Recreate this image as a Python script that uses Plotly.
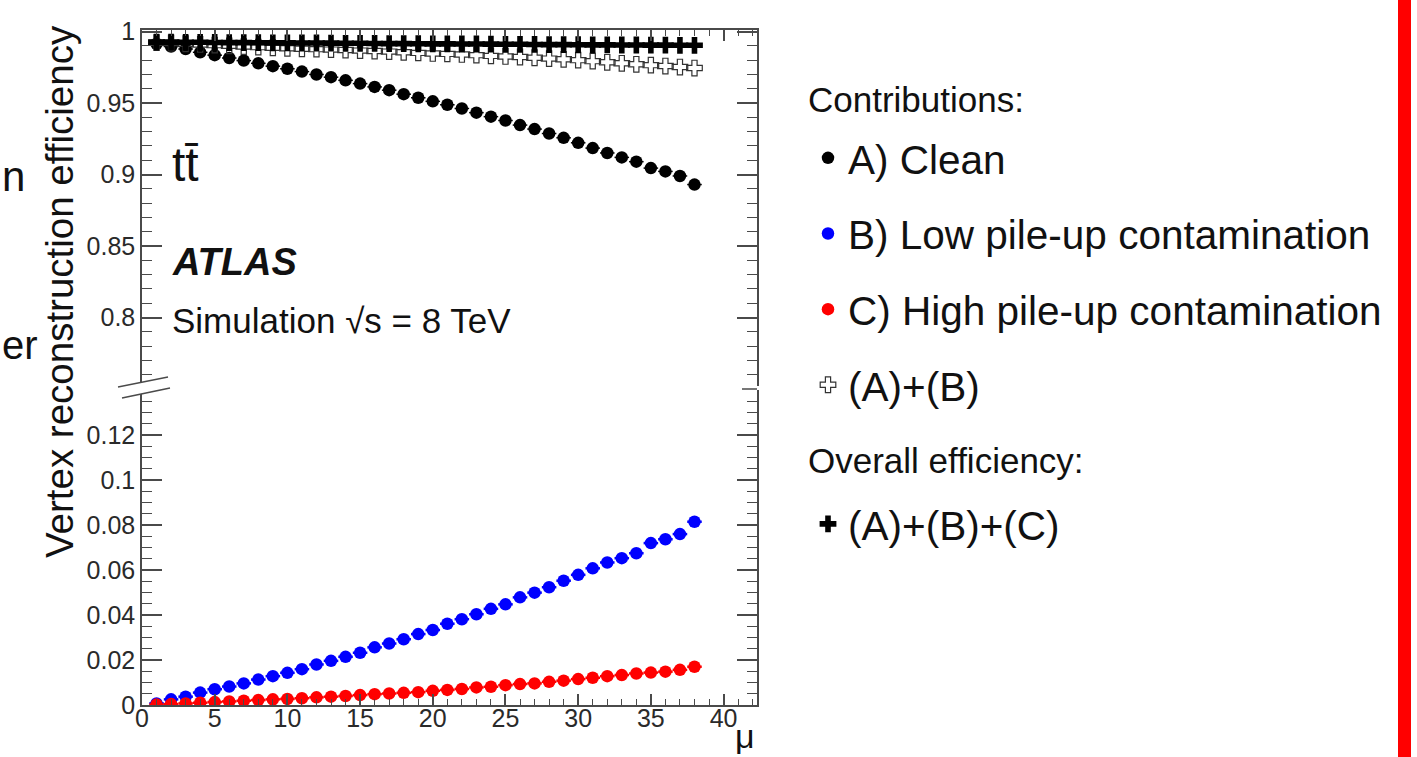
import plotly.graph_objects as go

W, H = 1417, 757
FONT = "Liberation Sans, Arial, Helvetica, sans-serif"
AX = "#4a4a4a"

# ---------------- data ----------------
mu = list(range(1, 39))

clean = [0.9915, 0.9895, 0.9878, 0.9855, 0.9835, 0.9815, 0.9797, 0.9778, 0.9758, 0.9740,
         0.9720, 0.9700, 0.9681, 0.9659, 0.9636, 0.9613, 0.9590, 0.9562, 0.9537, 0.9512,
         0.9488, 0.9462, 0.9433, 0.9405, 0.9378, 0.9346, 0.9318, 0.9287, 0.9257, 0.9222,
         0.9185, 0.9151, 0.9120, 0.9090, 0.9045, 0.9022, 0.8990, 0.8930]

low_pu = [0.0007, 0.0025, 0.0037, 0.0055, 0.0070, 0.0082, 0.0096, 0.0113, 0.0128, 0.0143,
          0.0159, 0.0180, 0.0196, 0.0214, 0.0232, 0.0256, 0.0273, 0.0292, 0.0315, 0.0333,
          0.0361, 0.0381, 0.0403, 0.0427, 0.0447, 0.0478, 0.0499, 0.0523, 0.0552, 0.0578,
          0.0607, 0.0633, 0.0652, 0.0674, 0.0719, 0.0736, 0.0759, 0.0814]

high_pu = [0.0002, 0.0004, 0.0007, 0.0010, 0.0013, 0.0016, 0.0019, 0.0022, 0.0025, 0.0027,
           0.0030, 0.0034, 0.0037, 0.0040, 0.0044, 0.0048, 0.0051, 0.0054, 0.0057, 0.0063,
           0.0067, 0.0071, 0.0078, 0.0081, 0.0088, 0.0093, 0.0096, 0.0103, 0.0108, 0.0115,
           0.0121, 0.0128, 0.0133, 0.0140, 0.0144, 0.0148, 0.0156, 0.0170]

clean_plus_low = [0.9922, 0.9920, 0.9915, 0.9910, 0.9905, 0.9900, 0.9895, 0.9891, 0.9887, 0.9883,
                  0.9880, 0.9877, 0.9874, 0.9871, 0.9867, 0.9864, 0.9860, 0.9855, 0.9851, 0.9847,
                  0.9844, 0.9840, 0.9835, 0.9830, 0.9826, 0.9822, 0.9817, 0.9811, 0.9806, 0.9800,
                  0.9793, 0.9785, 0.9778, 0.9771, 0.9765, 0.9759, 0.9752, 0.9745]

overall = [0.9926, 0.9926, 0.9925, 0.9925, 0.9924, 0.9923, 0.9923, 0.9922, 0.9921, 0.9921,
           0.9920, 0.9920, 0.9919, 0.9918, 0.9918, 0.9917, 0.9916, 0.9916, 0.9915, 0.9914,
           0.9914, 0.9913, 0.9913, 0.9912, 0.9911, 0.9911, 0.9910, 0.9909, 0.9909, 0.9908,
           0.9907, 0.9907, 0.9906, 0.9906, 0.9905, 0.9905, 0.9904, 0.9904]

x_ticks = [0, 5, 10, 15, 20, 25, 30, 35, 40]
names = ["A) Clean", "B) Low pile-up contamination", "C) High pile-up contamination",
         "(A)+(B)", "(A)+(B)+(C)"]


def px(x):
    return x / W


def py(y):
    return 1 - y / H


def errx(color, thick=2):
    return dict(type="constant", value=0.5, thickness=thick, width=0, color=color)


fig = go.Figure()

# bottom panel
fig.add_trace(go.Scatter(x=mu, y=low_pu, mode="markers", name=names[1],
                         marker=dict(color="#0000ff", size=12.5, symbol="circle"),
                         error_x=errx("#0000ff", 2.5), xaxis="x", yaxis="y",
                         legend="legend", legendgroup="b", legendrank=2))
fig.add_trace(go.Scatter(x=mu, y=high_pu, mode="markers", name=names[2],
                         marker=dict(color="#ff0000", size=12.5, symbol="circle"),
                         error_x=errx("#ff0000", 2.5), xaxis="x", yaxis="y",
                         legend="legend", legendgroup="c", legendrank=3))
# top panel
fig.add_trace(go.Scatter(x=mu, y=clean, mode="markers", name=names[0],
                         marker=dict(color="#000000", size=12.5, symbol="circle"),
                         error_x=errx("#000000", 1.5), xaxis="x2", yaxis="y2",
                         legend="legend", legendgroup="a", legendrank=1))
fig.add_trace(go.Scatter(x=mu, y=clean_plus_low, mode="markers", name=names[3],
                         marker=dict(color="#333333", size=13, symbol="cross-open",
                                     line=dict(width=1.2, color="#333333")),
                         xaxis="x2", yaxis="y2",
                         legend="legend", legendgroup="d", legendrank=4))
fig.add_trace(go.Scatter(x=mu, y=overall, mode="markers", name=names[4],
                         marker=dict(color="#000000", size=14, symbol="cross",
                                     line=dict(width=0)),
                         xaxis="x2", yaxis="y2",
                         legend="legend2", legendgroup="e", legendrank=5))

common = dict(showgrid=False, zeroline=False, showline=True, linecolor=AX, linewidth=1.5,
              ticks="inside", tickcolor=AX, tickwidth=1.5, automargin=False,
              tickfont=dict(family=FONT, size=25, color="#2a2a2a"))

fig.update_layout(
    width=W, height=H, autosize=False,
    margin=dict(l=0, r=0, t=0, b=0, pad=0, autoexpand=False),
    paper_bgcolor="white", plot_bgcolor="white",
    font=dict(family=FONT, color="#111111"),
    xaxis=dict(common, domain=[px(142), px(757)], range=[0, 42.3], anchor="y",
               tickmode="array", tickvals=x_ticks, ticklen=11, ticklabelstandoff=-10,
               minor=dict(dtick=1, tick0=0, ticklen=6, ticks="inside",
                          tickcolor=AX, tickwidth=1.2)),
    xaxis2=dict(common, domain=[px(142), px(757)], range=[0, 42.3], anchor="y2",
                matches="x", side="top", showticklabels=False,
                tickmode="array", tickvals=x_ticks, ticklen=11,
                minor=dict(dtick=1, tick0=0, ticklen=6, ticks="inside",
                           tickcolor=AX, tickwidth=1.2)),
    yaxis=dict(common, domain=[py(705), py(390)], range=[0, 0.1399], anchor="x",
               dtick=0.02, tick0=0, ticklen=20, mirror="ticks",
               minor=dict(dtick=0.005, tick0=0, ticklen=10, ticks="inside",
                          tickcolor=AX, tickwidth=1.2)),
    yaxis2=dict(common, domain=[py(386), py(30)], range=[0.7521, 1.0011], anchor="x2",
                dtick=0.05, tick0=0, ticklen=20, mirror="ticks",
                minor=dict(dtick=0.01, tick0=0, ticklen=10, ticks="inside",
                           tickcolor=AX, tickwidth=1.2)),
    legend=dict(x=px(808), y=py(125), xanchor="left", yanchor="top",
                font=dict(family=FONT, size=40.5, color="#111111"),
                tracegroupgap=20, bgcolor="rgba(0,0,0,0)", traceorder="grouped",
                itemsizing="trace"),
    legend2=dict(x=px(808), y=py(491), xanchor="left", yanchor="top",
                 font=dict(family=FONT, size=40.5, color="#111111"),
                 bgcolor="rgba(0,0,0,0)", itemsizing="trace"),
    showlegend=True,
)

# axis break marks + frame details + red slide bar
brk = (f"M {px(118)},{py(387)} L {px(168)},{py(377)} "
       f"L {px(170)},{py(388)} L {px(122)},{py(398)} Z")
fig.add_shape(type="path", path=brk, xref="paper", yref="paper",
              fillcolor="white", line=dict(width=0), layer="above")
fig.add_shape(type="line", xref="paper", yref="paper", x0=px(118), y0=py(387),
              x1=px(168), y1=py(377), line=dict(color=AX, width=1.5), layer="above")
fig.add_shape(type="line", xref="paper", yref="paper", x0=px(122), y0=py(398),
              x1=px(170), y1=py(388), line=dict(color=AX, width=1.5), layer="above")
fig.add_shape(type="line", xref="paper", yref="paper", x0=px(742), y0=py(389),
              x1=px(757), y1=py(389), line=dict(color=AX, width=1.5), layer="above")
fig.add_shape(type="rect", xref="paper", yref="paper", x0=px(1398), x1=px(1411),
              y0=0, y1=1, fillcolor="#ff0000", line=dict(width=0), layer="above")


def note(text, x, y, size, xanchor="left", yanchor="middle", angle=0, color="#111111"):
    fig.add_annotation(text=text, x=px(x), y=py(y), xref="paper", yref="paper",
                       showarrow=False, xanchor=xanchor, yanchor=yanchor,
                       textangle=angle, font=dict(family=FONT, size=size, color=color))


note("Vertex reconstruction efficiency", 60, 292, 38.5, xanchor="center", angle=-90)
note("tt\u0304", 170, 165, 48)
note("<b><i>ATLAS</i></b>", 170, 262, 38)
note("Simulation \u221as = 8 TeV", 170, 320, 35)
note("\u03bc", 745, 757, 34, xanchor="center", yanchor="bottom")
note("Contributions:", 806, 100, 35)
note("Overall efficiency:", 806, 460, 35)
note("n", 27, 176, 42, xanchor="right")
note("er", 40, 345, 40, xanchor="right")

fig.write_html(
    "out.html",
    config={"displayModeBar": False},
    post_script="document.body.style.margin='0';document.body.style.overflow='hidden';",
)
